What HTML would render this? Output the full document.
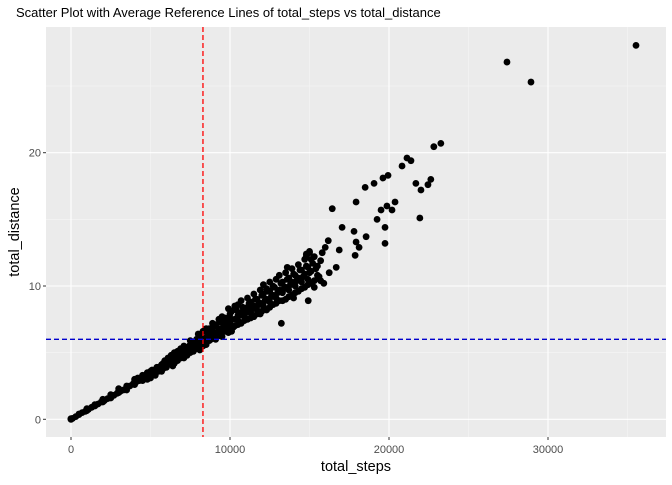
<!DOCTYPE html>
<html><head><meta charset="utf-8"><style>
body{margin:0;background:#fff;font-family:"Liberation Sans",sans-serif}
svg text{font-family:"Liberation Sans",sans-serif}
</style></head><body>
<svg id="chart" width="672" height="480" xmlns="http://www.w3.org/2000/svg">
<text x="16" y="17" font-size="13" fill="#000">Scatter Plot with Average Reference Lines of total_steps vs total_distance</text>
<rect x="46" y="27" width="620" height="410" fill="#EBEBEB"/>
<g id="grid"></g><g id="marks"></g><g id="refs"></g><g id="axes"></g>
<text x="356" y="471" font-size="14.5" text-anchor="middle" fill="#000">total_steps</text>
<text transform="translate(19,232) rotate(-90)" font-size="14.5" text-anchor="middle" fill="#000">total_distance</text>
</svg>
<script>
const xTicks=[0,10000,20000,30000];
const yTicks=[0,10,20];
const steps=[0,0,0,0,100,300,500,700,900,1100,1300,1500,1700,1900,2100,2300,2500,2700,2900,3100,3300,3500,3700,3900,4100,4300,4500,4700,4900,3000,3500,4000,4000,4500,4500,5000,5000,5200,5400,5500,5600,5800,5800,6000,6000,6200,6300,6400,6500,6600,6700,6800,6900,7000,7000,7200,7300,7400,7500,7600,7700,7800,7900,8000,8000,8200,8300,8400,8500,8600,8700,8800,9000,9000,9200,9300,9400,9500,9600,9700,9800,10000,10000,10200,10300,10400,10500,10600,10800,10900,11000,11200,11300,11400,11600,11700,11800,12000,12000,12200,12400,12500,12600,12800,12900,13000,13200,13300,13400,13600,13700,13800,14000,14100,14200,14400,14500,14600,14800,14900,15000,15100,15300,15400,15600,15200,15000,14800,13230,14920,15800,16680,16240,15990,16180,16870,16430,17050,17800,17930,17930,18120,17870,18560,18500,19060,19620,19940,20820,21130,21380,22820,23260,21690,22630,22450,22010,19750,19250,20380,19870,20190,19500,19750,21940,27420,28930,35535,
500,1000,1000,1500,2000,2000,2500,2500,3000,3000,3500,3500,4000,4000,4200,4500,4800,4800,5000,5100,5300,5300,5500,5700,5700,5900,5900,6100,6100,6300,6300,6500,6500,6700,6700,6900,6900,7100,7100,7100,7300,7300,7500,7500,7500,7700,7700,7900,7900,8100,8100,8100,8300,8300,8500,8500,8500,8700,8700,8900,8900,8900,9100,9100,9100,9300,9300,9500,9500,9500,9700,9700,9900,9900,9900,9900,10100,10100,10100,10300,10300,10500,10500,10500,10700,10700,10700,10900,10900,11100,11100,11100,11300,11300,11500,11500,11500,11700,11700,11900,11900,11900,12100,12100,12100,12300,12300,12300,12500,12500,12500,12700,12700,12700,12900,12900,13100,13100,13100,13300,13300,13500,13500,13500,13700,13700,13900,13900,13900,14100,14100,14300,14300,14300,14500,14500,14700,14700,14700,14900,14900,15100,15100,15300,15300,15500,15500,15700,15700,14800,15000,13600,15900,14000];
const dist=[0,0.02,0.05,0.03,0.07,0.2,0.35,0.5,0.6,0.75,0.9,1.0,1.15,1.3,1.4,1.55,1.7,1.8,1.95,2.1,2.2,2.4,2.5,2.65,2.8,2.9,3.05,3.2,3.3,2.3,2.2,3.0,2.6,3.3,2.9,3.6,3.1,3.5,3.9,3.6,3.8,4.2,3.8,4.4,3.9,4.2,4.6,4.0,4.5,4.8,4.4,5.0,4.6,5.2,4.7,4.9,5.4,5.0,5.6,5.1,5.8,5.3,6.0,6.4,5.5,5.7,6.1,6.6,5.8,6.3,6.8,6.0,6.5,7.0,6.2,6.8,7.3,6.5,7.0,7.6,6.7,7.2,7.9,6.9,7.5,8.2,7.1,7.8,8.4,7.4,8.0,8.7,7.6,8.3,9.0,7.9,8.6,9.3,8.1,8.9,9.6,8.4,9.2,9.9,8.7,9.5,10.2,8.9,9.8,10.5,9.2,10.1,10.9,9.5,10.4,11.2,9.8,10.7,11.5,10.1,11.0,12.0,10.4,11.3,10.7,11.7,12.5,12.2,7.2,8.9,12.5,11.4,11.0,12.9,13.4,12.7,15.8,14.4,14.1,13.3,16.3,12.9,12.3,13.7,17.4,17.7,18.1,18.3,19.0,19.6,19.4,20.45,20.7,17.7,18.0,17.6,17.2,14.4,15.0,16.3,16.0,15.7,15.7,13.2,15.1,26.8,25.3,28.05,
0.4,0.65,0.8,1.1,1.3,1.5,1.6,1.85,2.0,2.2,2.5,2.35,2.7,2.85,3.1,3.2,3.0,3.5,3.3,3.7,3.3,3.7,3.9,3.6,4.1,4.0,4.4,4.1,4.6,4.3,4.8,4.2,5.0,4.7,5.1,4.9,5.3,4.6,5.1,5.5,4.8,5.2,5.0,5.4,5.9,5.1,5.5,5.3,5.7,5.2,5.9,6.3,5.5,6.6,5.6,6.1,6.8,5.9,6.4,6.1,6.7,7.2,6.0,6.4,7.1,6.4,7.5,6.2,6.8,7.7,6.6,7.2,6.5,7.0,7.6,8.3,6.6,7.5,8.1,7.0,8.5,7.4,7.8,8.6,7.2,8.0,8.9,7.7,8.2,7.5,8.4,9.1,8.0,8.8,7.7,8.5,9.4,8.2,9.0,7.9,8.7,9.7,8.5,9.4,10.1,8.2,9.0,9.8,8.8,9.6,10.3,8.6,9.3,10.0,9.1,10.5,8.9,9.7,10.8,9.5,10.3,9.0,9.9,11.0,9.7,10.6,9.3,10.3,11.3,10.0,10.8,9.6,10.6,11.6,10.3,11.2,9.9,10.9,12.0,10.5,11.4,10.2,11.1,9.9,12.2,10.8,11.5,10.4,11.9,12.4,12.6,11.4,10.2,9.1];
const meanSteps=8300, meanDist=6.0;
const X=v=>71+v*0.0159, Y=v=>419.3-v*13.33;
const NS="http://www.w3.org/2000/svg";
function mk(tag,attrs,parent){const e=document.createElementNS(NS,tag);for(const k in attrs)e.setAttribute(k,attrs[k]);document.getElementById(parent).appendChild(e);return e;}
[5000,15000,25000,35000].forEach(v=>{const l=mk('line',{x1:X(v),x2:X(v),y1:27,y2:437,stroke:'#F5F5F5','stroke-width':0.6},'grid');

});
[5,15,25].forEach(v=>{const l=mk('line',{x1:46,x2:666,y1:Y(v),y2:Y(v),stroke:'#F5F5F5','stroke-width':0.6},'grid');

});
xTicks.forEach(v=>{const l=mk('line',{x1:X(v),x2:X(v),y1:27,y2:437,stroke:'#fff','stroke-width':1.1},'grid');


const t=mk('line',{x1:X(v),x2:X(v),y1:437,y2:440,stroke:'#333'},'axes');


const tx=mk('text',{x:X(v),y:453,'font-size':11,'text-anchor':'middle',fill:'#4D4D4D'},'axes');tx.textContent=v;

});
yTicks.forEach(v=>{const l=mk('line',{x1:46,x2:666,y1:Y(v),y2:Y(v),stroke:'#fff','stroke-width':1.1},'grid');


const t=mk('line',{x1:43,x2:46,y1:Y(v),y2:Y(v),stroke:'#333'},'axes');


const tx=mk('text',{x:41,y:Y(v)+4,'font-size':11,'text-anchor':'end',fill:'#4D4D4D'},'axes');tx.textContent=v;

});
steps.forEach((s,i)=>{const c=mk('circle',{cx:X(s),cy:Y(dist[i]),r:3.4,fill:'#000'},'marks');

});
const rv=mk('line',{x1:X(meanSteps),x2:X(meanSteps),y1:27,y2:437,stroke:'#FF0000','stroke-width':1.3,'stroke-dasharray':'5,3'},'refs');


const rh=mk('line',{x1:46,x2:666,y1:Y(meanDist),y2:Y(meanDist),stroke:'#0000CC','stroke-width':1.3,'stroke-dasharray':'5,3'},'refs');


</script>
</body></html>
